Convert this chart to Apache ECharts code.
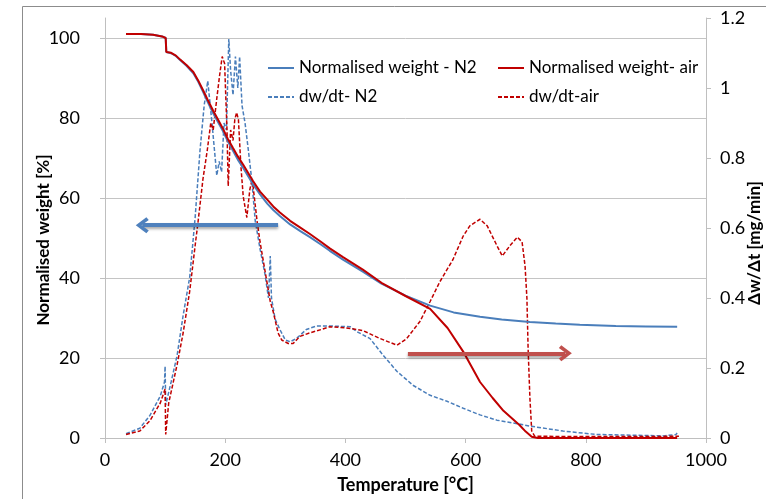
<!DOCTYPE html>
<html>
<head>
<meta charset="utf-8">
<script src="https://cdn.jsdelivr.net/npm/echarts@6/dist/echarts.min.js"></script>
<style>html,body{margin:0;padding:0;background:#fff}#c{width:766px;height:499px}</style>
</head>
<body>
<div id="c"></div>
<script>
// ---- Data ----
const xTicks = [0, 200, 400, 600, 800, 1000];
const leftTicks = [0, 20, 40, 60, 80, 100];
const rightTicks = [0, 0.2, 0.4, 0.6, 0.8, 1, 1.2];

const seriesNames = ['Normalised weight - N2', 'Normalised weight- air', 'dw/dt- N2', 'dw/dt-air'];

const tempWeightN2 = [35, 60, 80, 95, 101, 102, 110, 118, 125, 136, 147, 155, 163, 171, 180, 188, 196, 204, 213, 221, 230, 238, 246, 258, 270, 280, 291, 308, 325, 341, 358, 374, 396, 429, 460, 500, 541, 580, 624, 660, 707, 750, 790, 850, 900, 952];
const weightN2 = [101.0, 101.0, 100.8, 100.4, 100.0, 96.5, 96.2, 95.5, 94.5, 93.0, 91.2, 89.1, 86.6, 84.0, 81.2, 79.0, 76.8, 74.3, 71.8, 69.6, 67.5, 65.5, 63.5, 60.9, 58.6, 57.0, 55.5, 53.4, 51.7, 50.2, 48.5, 46.8, 44.6, 41.6, 38.6, 35.6, 33.1, 31.4, 30.3, 29.6, 29.0, 28.6, 28.3, 28.0, 27.9, 27.8];

const tempWeightAir = [35, 60, 80, 95, 101, 102, 110, 118, 125, 136, 147, 155, 163, 171, 180, 188, 196, 204, 213, 221, 230, 238, 246, 258, 270, 280, 291, 308, 325, 341, 358, 374, 396, 429, 460, 500, 541, 570, 596, 624, 645, 663, 690, 700, 710, 720, 800, 900, 952];
const weightAir = [101.0, 101.0, 100.8, 100.4, 100.0, 96.5, 96.3, 95.6, 94.6, 93.2, 91.5, 89.4, 87.0, 84.5, 81.8, 79.6, 77.4, 74.9, 72.5, 70.4, 68.3, 66.3, 64.3, 61.6, 59.6, 57.9, 56.4, 54.3, 52.6, 51.0, 49.2, 47.4, 45.2, 42.1, 38.8, 35.5, 32.3, 27.5, 21.6, 14.0, 10.0, 6.8, 3.2, 1.6, 0.3, 0.0, 0.0, 0.0, 0.0];

const tempRateN2 = [35, 58, 75, 92, 99, 100, 101, 110, 120, 130, 141, 150, 158, 165, 171, 178, 186, 190, 194, 198, 202, 206, 209, 213, 217, 221, 224, 228, 233, 238, 244, 250, 258, 266, 272, 275, 277, 283, 291, 300, 308, 319, 335, 352, 374, 408, 419, 441, 463, 486, 513, 541, 569, 596, 624, 652, 679, 707, 762, 818, 874, 930, 950, 952];
const rateN2 = [0.012, 0.028, 0.065, 0.12, 0.16, 0.205, 0.094, 0.16, 0.236, 0.35, 0.46, 0.63, 0.82, 0.95, 1.02, 0.9, 0.75, 0.79, 0.76, 0.9, 0.88, 1.14, 1.05, 0.98, 1.09, 1.0, 1.09, 0.95, 0.9, 0.83, 0.74, 0.62, 0.54, 0.47, 0.40, 0.52, 0.40, 0.34, 0.31, 0.28, 0.275, 0.285, 0.31, 0.32, 0.32, 0.318, 0.304, 0.284, 0.236, 0.19, 0.15, 0.122, 0.105, 0.085, 0.066, 0.051, 0.043, 0.034, 0.02, 0.01, 0.008, 0.006, 0.01, 0.014];

const tempRateAir = [35, 58, 75, 92, 100, 101, 106, 120, 130, 141, 150, 155, 163, 170, 176, 180, 186, 191, 195, 199, 203, 205, 209, 213, 216, 219, 222, 226, 230, 236, 241, 245, 249, 253, 258, 263, 270, 275, 280, 283, 288, 294, 305, 313, 324, 340, 360, 374, 400, 429, 458, 486, 502, 524, 541, 557, 579, 596, 607, 624, 636, 652, 661, 674, 686, 694, 699, 702, 704, 707, 710, 715, 800, 900, 955];
const rateAir = [0.01, 0.02, 0.05, 0.1, 0.14, 0.01, 0.1, 0.21, 0.3, 0.42, 0.55, 0.62, 0.74, 0.82, 0.9, 0.88, 0.97, 1.04, 1.09, 1.07, 0.88, 0.72, 0.88, 0.85, 0.91, 0.93, 0.91, 0.78, 0.69, 0.63, 0.71, 0.74, 0.68, 0.62, 0.56, 0.51, 0.44, 0.39, 0.36, 0.36, 0.3, 0.28, 0.27, 0.27, 0.29, 0.3, 0.31, 0.318, 0.315, 0.307, 0.284, 0.265, 0.284, 0.333, 0.39, 0.446, 0.51, 0.577, 0.606, 0.625, 0.606, 0.55, 0.52, 0.55, 0.574, 0.56, 0.49, 0.40, 0.256, 0.114, 0.02, 0.005, 0.004, 0.004, 0.005];

// annotation arrows: [startT, endT, level]
const blueArrow = [288, 62, 53.2];   // on left axis
const redArrow = [504, 766, 0.242];  // on right axis

// ---- Chart ----
const pairs = (xs, ys) => xs.map((x, i) => [x, ys[i]]);
const FONT = 'Lato, "Open Sans", sans-serif';
const BLUE = '#4a7ebb', RED = '#c00000';
const CHEVRON = 'path://M5 0 L10 6.2 L8.3 7.6 L5 3.4 L1.7 7.6 L0 6.2 Z';

const chart = echarts.init(document.getElementById('c'), null, {renderer: 'canvas'});
const legendCommon = {orient: 'vertical', top: 59.5, padding: 0, itemWidth: 26, itemHeight: 17, itemGap: 12,
  itemStyle: {opacity: 0}, textStyle: {fontSize: 17, color: '#000', fontFamily: FONT, lineHeight: 17}};
chart.setOption({
  animation: false,
  backgroundColor: '#fff',
  textStyle: {fontFamily: FONT},
  grid: {left: 105, right: 60, top: 18, bottom: 59},
  graphic: [
    {type: 'rect', shape: {x: 22.5, y: 6.5, width: 900, height: 700}, style: {fill: 'none', stroke: '#8c8c8c', lineWidth: 1}, silent: true},
    {type: 'text', x: 44, y: 240, rotation: Math.PI / 2, style: {text: 'Normalised weight [%]', font: 'bold 17px ' + FONT, fill: '#000', textAlign: 'center', textVerticalAlign: 'middle'}},
    {type: 'text', x: 755, y: 243, rotation: Math.PI / 2, style: {text: 'Δw/Δt [mg/min]', font: 'bold 17px ' + FONT, fill: '#000', textAlign: 'center', textVerticalAlign: 'middle'}}
  ],
  legend: [
    Object.assign({data: [seriesNames[0], seriesNames[2]], left: 267}, legendCommon),
    Object.assign({data: [seriesNames[1], seriesNames[3]], left: 497}, legendCommon)
  ],
  xAxis: {
    type: 'value', min: xTicks[0], max: xTicks[xTicks.length - 1], interval: xTicks[1] - xTicks[0],
    name: 'Temperature [°C]', nameLocation: 'middle', nameGap: 38,
    nameTextStyle: {fontSize: 18, fontWeight: 'bold', color: '#000', fontFamily: FONT},
    axisLine: {show: true, lineStyle: {color: '#bfbfbf'}},
    axisTick: {show: true, length: 5, lineStyle: {color: '#bfbfbf'}},
    axisLabel: {fontSize: 18, color: '#000', margin: 13, formatter: v => String(v)},
    splitLine: {show: false}
  },
  yAxis: [
    {
      type: 'value', min: 0, max: 105, interval: leftTicks[1] - leftTicks[0], position: 'left',
      axisLine: {show: true, lineStyle: {color: '#bfbfbf'}},
      axisTick: {show: true, length: 5, lineStyle: {color: '#bfbfbf'}},
      axisLabel: {fontSize: 18, color: '#000', margin: 25, showMaxLabel: false,
        formatter: v => leftTicks.indexOf(v) >= 0 ? String(v) : ''},
      splitLine: {show: true, showMaxLine: false, lineStyle: {color: '#c4c4c4', width: 1}}
    },
    {
      type: 'value', min: rightTicks[0], max: rightTicks[rightTicks.length - 1], interval: 0.2, position: 'right',
      axisLine: {show: true, lineStyle: {color: '#bfbfbf'}},
      axisTick: {show: true, length: 5, lineStyle: {color: '#bfbfbf'}},
      axisLabel: {fontSize: 18, color: '#000', margin: 14, formatter: v => String(Math.round(v * 10) / 10)},
      splitLine: {show: false}
    }
  ],
  series: [
    {name: seriesNames[0], type: 'line', yAxisIndex: 0, data: pairs(tempWeightN2, weightN2), symbol: 'none', showSymbol: false,
     lineStyle: {color: BLUE, width: 2}, itemStyle: {color: BLUE}, z: 3,
     markLine: {silent: true, symbol: ['none', CHEVRON], symbolSize: [16, 13], label: {show: false},
       lineStyle: {color: '#4f81bd', width: 4, type: 'solid', shadowBlur: 3, shadowColor: 'rgba(0,0,0,0.35)', shadowOffsetY: 2},
       itemStyle: {color: '#4f81bd'},
       data: [[{coord: [blueArrow[0], blueArrow[2]]}, {coord: [blueArrow[1], blueArrow[2]]}]]}},
    {name: seriesNames[1], type: 'line', yAxisIndex: 0, data: pairs(tempWeightAir, weightAir), symbol: 'none', showSymbol: false,
     lineStyle: {color: RED, width: 2}, itemStyle: {color: RED}, z: 3},
    {name: seriesNames[2], type: 'line', yAxisIndex: 1, data: pairs(tempRateN2, rateN2), symbol: 'none', showSymbol: false,
     lineStyle: {color: BLUE, width: 1.5, type: [4, 2]}, itemStyle: {color: BLUE}, z: 2},
    {name: seriesNames[3], type: 'line', yAxisIndex: 1, data: pairs(tempRateAir, rateAir), symbol: 'none', showSymbol: false,
     lineStyle: {color: RED, width: 1.5, type: [4, 2]}, itemStyle: {color: RED}, z: 2,
     markLine: {silent: true, symbol: ['none', CHEVRON], symbolSize: [16, 13], label: {show: false},
       lineStyle: {color: '#c0504d', width: 4, type: 'solid', shadowBlur: 3, shadowColor: 'rgba(0,0,0,0.35)', shadowOffsetY: 2},
       itemStyle: {color: '#c0504d'},
       data: [[{coord: [redArrow[0], redArrow[2]]}, {coord: [redArrow[1], redArrow[2]]}]]}}
  ]
});
</script>
</body>
</html>
